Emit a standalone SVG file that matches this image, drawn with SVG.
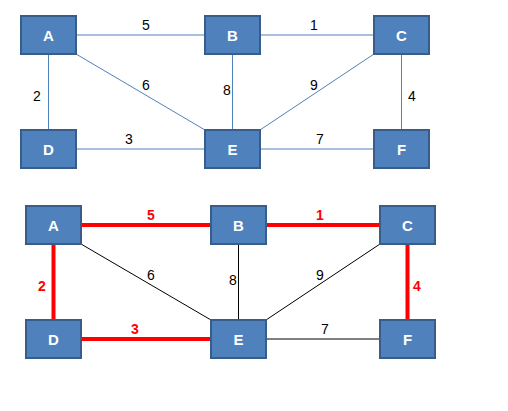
<svg xmlns="http://www.w3.org/2000/svg" width="508" height="411" viewBox="0 0 508 411">
<style>
.node rect{fill:#4F81BD;stroke:#385D8A;stroke-width:2}
.node text{fill:#fff;font-family:"Liberation Sans",Arial,sans-serif;font-weight:bold;font-size:15px;text-anchor:middle}
.blue{stroke:#4F81BD;stroke-width:1;fill:none}
.blk{stroke:#000;stroke-width:1;fill:none}
.red{stroke:#FF0000;stroke-width:4;fill:none}
.lbl{font-family:"Liberation Sans",Arial,sans-serif;font-size:14px;text-anchor:middle;fill:#000}
.rl{font-family:"Liberation Sans",Arial,sans-serif;font-size:14px;font-weight:bold;text-anchor:middle;fill:#FF0000}
</style>
<rect width="508" height="411" fill="#fff"/>
<g id="connectors">
<line class="blue" x1="76" y1="35" x2="205" y2="35"/>
<line class="blue" x1="260" y1="35" x2="374" y2="35"/>
<line class="blue" x1="48.5" y1="54" x2="48.5" y2="130"/>
<line class="blue" x1="76" y1="54" x2="205" y2="130"/>
<line class="blue" x1="232.5" y1="54" x2="232.5" y2="130"/>
<line class="blue" x1="374" y1="54" x2="260" y2="130"/>
<line class="blue" x1="401.5" y1="54" x2="401.5" y2="130"/>
<line class="blue" x1="76" y1="149" x2="205" y2="149"/>
<line class="blue" x1="260" y1="149" x2="374" y2="149"/>
<text class="lbl" x="146" y="30">5</text>
<text class="lbl" x="314" y="30">1</text>
<text class="lbl" x="37" y="101">2</text>
<text class="lbl" x="146" y="90">6</text>
<text class="lbl" x="227" y="95">8</text>
<text class="lbl" x="314" y="90">9</text>
<text class="lbl" x="412" y="101">4</text>
<text class="lbl" x="129" y="144">3</text>
<text class="lbl" x="320" y="144">7</text>

<line class="red" x1="81" y1="225" x2="211" y2="225"/>
<line class="red" x1="266" y1="225" x2="380" y2="225"/>
<line class="red" x1="53.5" y1="244" x2="53.5" y2="320"/>
<line class="blk" x1="81" y1="244" x2="211" y2="320"/>
<line class="blk" x1="238.5" y1="244" x2="238.5" y2="320"/>
<line class="blk" x1="380" y1="244" x2="266" y2="320"/>
<line class="red" x1="407.5" y1="244" x2="407.5" y2="320"/>
<line class="red" x1="81" y1="339" x2="211" y2="339"/>
<line class="blk" x1="266" y1="339" x2="380" y2="339"/>
<text class="rl" x="151" y="220">5</text>
<text class="rl" x="320" y="220">1</text>
<text class="rl" x="42" y="291">2</text>
<text class="lbl" x="151" y="280">6</text>
<text class="lbl" x="233" y="285">8</text>
<text class="lbl" x="320" y="280">9</text>
<text class="rl" x="417" y="291">4</text>
<text class="rl" x="135" y="334">3</text>
<text class="lbl" x="325" y="334">7</text>
</g>
<g id="A1" class="node"><rect x="21" y="16" width="55" height="38"/><text x="48.5" y="41">A</text></g>
<g id="B1" class="node"><rect x="205" y="16" width="55" height="38"/><text x="232.5" y="41">B</text></g>
<g id="C1" class="node"><rect x="374" y="16" width="55" height="38"/><text x="401.5" y="41">C</text></g>
<g id="D1" class="node"><rect x="21" y="130" width="55" height="38"/><text x="48.5" y="155">D</text></g>
<g id="E1" class="node"><rect x="205" y="130" width="55" height="38"/><text x="232.5" y="155">E</text></g>
<g id="F1" class="node"><rect x="374" y="130" width="55" height="38"/><text x="401.5" y="155">F</text></g>
<g id="A2" class="node"><rect x="26" y="206" width="55" height="38"/><text x="53.5" y="231">A</text></g>
<g id="B2" class="node"><rect x="211" y="206" width="55" height="38"/><text x="238.5" y="231">B</text></g>
<g id="C2" class="node"><rect x="380" y="206" width="55" height="38"/><text x="407.5" y="231">C</text></g>
<g id="D2" class="node"><rect x="26" y="320" width="55" height="38"/><text x="53.5" y="345">D</text></g>
<g id="E2" class="node"><rect x="211" y="320" width="55" height="38"/><text x="238.5" y="345">E</text></g>
<g id="F2" class="node"><rect x="380" y="320" width="55" height="38"/><text x="407.5" y="345">F</text></g>
</svg>
